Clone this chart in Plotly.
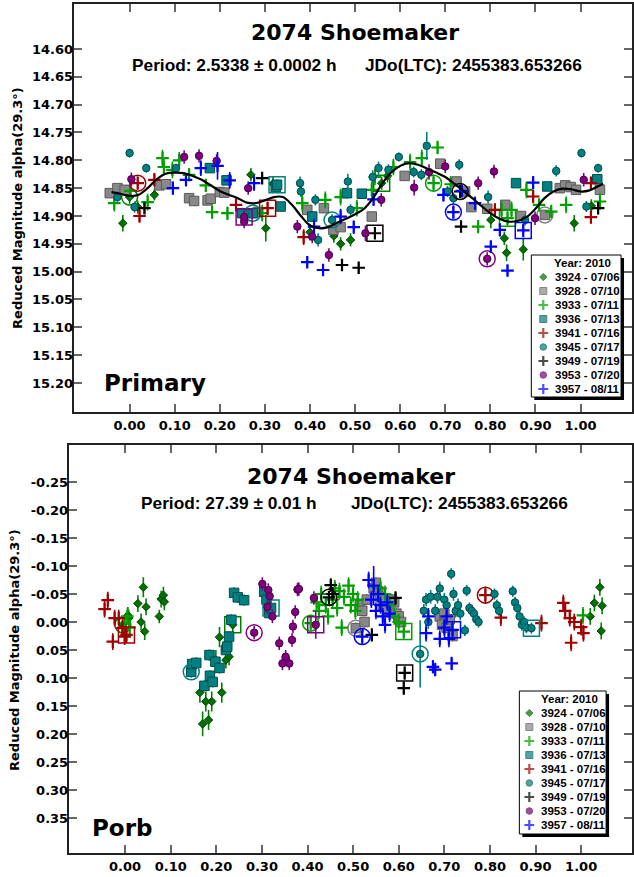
import plotly.graph_objects as go

W, H = 634, 877

# ---- sessions ----
SESSION_IDS = ["3924", "3928", "3933", "3936", "3941", "3945", "3949", "3953", "3957"]
SESSION_LABELS = ["3924 - 07/06", "3928 - 07/10", "3933 - 07/11", "3936 - 07/13",
                  "3941 - 07/16", "3945 - 07/17", "3949 - 07/19", "3953 - 07/20",
                  "3957 - 08/11"]
LEGEND_TITLE = "Year: 2010"

# ---- Primary period: (phase, reduced mag, error) per session ----
P1_3924 = [(0.000, 14.866, 0.012), (-0.015, 14.913, 0.015), (0.018, 14.884, 0.012),
           (0.055, 14.862, 0.010), (0.269, 14.826, 0.012), (0.302, 14.922, 0.024),
           (0.318, 14.842, 0.012), (0.400, 14.929, 0.015), (0.453, 14.936, 0.012),
           (0.468, 14.950, 0.012), (0.490, 14.943, 0.012), (0.572, 14.828, 0.012),
           (0.801, 14.907, 0.015), (0.831, 14.940, 0.012), (0.836, 14.966, 0.015),
           (0.873, 14.960, 0.020), (0.986, 14.913, 0.015), (1.024, 14.882, 0.012),
           (0.559, 14.841, 0.012)]
P1_3928 = [(0.921, 14.898, 0.008), (-0.044, 14.859, 0.008), (-0.027, 14.850, 0.008),
           (-0.011, 14.853, 0.008), (0.066, 14.845, 0.008), (0.081, 14.843, 0.008),
           (0.132, 14.868, 0.008), (0.143, 14.873, 0.008), (0.173, 14.872, 0.008),
           (0.180, 14.869, 0.008), (0.200, 14.857, 0.008), (0.210, 14.858, 0.008),
           (0.285, 14.893, 0.008), (0.394, 14.889, 0.008), (0.431, 14.886, 0.008),
           (0.452, 14.925, 0.008), (0.468, 14.920, 0.008), (0.537, 14.901, 0.008),
           (0.610, 14.828, 0.008), (0.689, 14.806, 0.008), (0.725, 14.838, 0.008),
           (0.744, 14.856, 0.008), (0.758, 14.884, 0.008), (0.793, 14.887, 0.008),
           (0.833, 14.880, 0.008), (0.868, 14.900, 0.008), (0.954, 14.850, 0.008),
           (0.966, 14.845, 0.008), (0.978, 14.848, 0.008), (0.990, 14.853, 0.008),
           (1.043, 14.853, 0.008)]
P1_3933 = [(0.674, 14.841, 0.015), (-0.034, 14.877, 0.015), (0.002, 14.855, 0.015),
           (0.040, 14.875, 0.015), (0.073, 14.796, 0.015), (0.076, 14.812, 0.015),
           (0.095, 14.817, 0.015), (0.110, 14.800, 0.015), (0.132, 14.826, 0.012),
           (0.169, 14.845, 0.012), (0.183, 14.893, 0.012), (0.217, 14.895, 0.012),
           (0.294, 14.895, 0.015), (0.383, 14.877, 0.015), (0.434, 14.871, 0.015),
           (0.468, 14.866, 0.015), (0.504, 14.886, 0.015), (0.537, 14.853, 0.015),
           (0.544, 14.830, 0.015), (0.585, 14.812, 0.015), (0.622, 14.803, 0.015),
           (0.648, 14.796, 0.015), (0.683, 14.777, 0.012), (0.712, 14.843, 0.015),
           (0.773, 14.919, 0.012), (0.825, 14.889, 0.015), (0.847, 14.889, 0.015),
           (0.880, 14.853, 0.015), (0.908, 14.880, 0.012), (0.935, 14.892, 0.012),
           (0.968, 14.880, 0.015), (1.043, 14.874, 0.015), (0.838, 14.904, 0.015)]
P1_3936 = [(0.273, 14.895, 0.010), (0.178, 14.814, 0.008), (0.215, 14.836, 0.008),
           (0.250, 14.895, 0.010), (0.324, 14.848, 0.008), (0.335, 14.883, 0.008),
           (0.405, 14.901, 0.010), (0.482, 14.859, 0.010), (0.515, 14.860, 0.008),
           (0.857, 14.841, 0.008), (0.926, 14.847, 0.008), (1.037, 14.834, 0.008),
           (0.327, 14.844, 0.010)]
P1_3941 = [(0.018, 14.841, 0.012), (0.022, 14.900, 0.012), (0.055, 14.835, 0.012),
           (0.236, 14.880, 0.012), (0.386, 14.938, 0.014), (0.810, 14.889, 0.012),
           (0.895, 14.865, 0.012), (1.023, 14.841, 0.012), (1.023, 14.902, 0.012),
           (0.306, 14.886, 0.012)]
P1_3945 = [(0.449, 14.907, 0.010), (0.000, 14.787, 0.008), (-0.027, 14.866, 0.010),
           (0.011, 14.884, 0.010), (0.037, 14.814, 0.008), (0.103, 14.814, 0.008),
           (0.378, 14.841, 0.012), (0.380, 14.856, 0.010), (0.412, 14.871, 0.010),
           (0.418, 14.943, 0.012), (0.484, 14.838, 0.014), (0.490, 14.889, 0.010),
           (0.539, 14.830, 0.012), (0.552, 14.814, 0.012), (0.574, 14.817, 0.010),
           (0.597, 14.794, 0.008), (0.630, 14.821, 0.010), (0.647, 14.826, 0.010),
           (0.659, 14.774, 0.025), (0.705, 14.856, 0.010), (0.718, 14.868, 0.010),
           (0.731, 14.808, 0.010), (0.795, 14.866, 0.012), (0.877, 14.907, 0.010),
           (0.946, 14.819, 0.010), (1.002, 14.787, 0.008), (1.013, 14.883, 0.010),
           (1.039, 14.814, 0.008)]
P1_3949 = [(0.733, 14.856, 0.012), (0.033, 14.886, 0.010), (0.294, 14.832, 0.010),
           (0.471, 14.988, 0.010), (0.508, 14.993, 0.010), (0.735, 14.919, 0.010),
           (1.039, 14.886, 0.010), (0.544, 14.931, 0.010)]
P1_3953 = [(0.793, 14.977, 0.012), (0.004, 14.834, 0.012), (0.121, 14.794, 0.012),
           (0.154, 14.792, 0.012), (0.193, 14.801, 0.012), (0.254, 14.910, 0.012),
           (0.263, 14.850, 0.012), (0.372, 14.919, 0.012), (0.405, 14.937, 0.012),
           (0.442, 14.970, 0.012), (0.523, 14.931, 0.014), (0.558, 14.871, 0.012),
           (0.631, 14.849, 0.014), (0.664, 14.821, 0.014), (0.700, 14.811, 0.012),
           (0.773, 14.841, 0.012), (0.808, 14.820, 0.012), (0.899, 14.904, 0.012),
           (1.007, 14.835, 0.012), (0.254, 14.902, 0.012)]
P1_3957 = [(0.718, 14.893, 0.012), (0.096, 14.850, 0.012), (0.125, 14.835, 0.012),
           (0.158, 14.814, 0.014), (0.195, 14.810, 0.025), (0.222, 14.836, 0.015),
           (0.276, 14.841, 0.014), (0.394, 14.983, 0.010), (0.409, 14.919, 0.014),
           (0.429, 14.997, 0.010), (0.468, 14.901, 0.014), (0.497, 14.920, 0.012),
           (0.541, 14.870, 0.012), (0.696, 14.862, 0.012), (0.737, 14.855, 0.012),
           (0.766, 14.877, 0.012), (0.801, 14.955, 0.010), (0.821, 14.925, 0.012),
           (0.838, 14.998, 0.010), (0.895, 14.840, 0.012), (0.873, 14.926, 0.012)]

# Fourier fit of the primary lightcurve
FIT_PHASE = [-0.04, -0.02, 0.00, 0.02, 0.04, 0.06, 0.08, 0.10, 0.12, 0.14, 0.16, 0.18,
             0.20, 0.22, 0.24, 0.26, 0.28, 0.30, 0.32, 0.34, 0.36, 0.38, 0.40, 0.42,
             0.44, 0.46, 0.48, 0.50, 0.52, 0.54, 0.56, 0.58, 0.60, 0.62, 0.64, 0.66,
             0.68, 0.70, 0.72, 0.74, 0.76, 0.78, 0.80, 0.82, 0.84, 0.86, 0.88, 0.90,
             0.92, 0.94, 0.96, 0.98, 1.00, 1.02, 1.04, 1.05]
FIT_MAG = [14.857, 14.860, 14.864, 14.862, 14.850, 14.834, 14.824, 14.822, 14.823,
           14.828, 14.835, 14.845, 14.855, 14.862, 14.868, 14.876, 14.877, 14.872,
           14.866, 14.866, 14.880, 14.900, 14.917, 14.922, 14.920, 14.912, 14.905,
           14.897, 14.887, 14.868, 14.842, 14.822, 14.810, 14.805, 14.808, 14.815,
           14.822, 14.830, 14.842, 14.855, 14.868, 14.882, 14.895, 14.905, 14.910,
           14.909, 14.902, 14.887, 14.868, 14.856, 14.851, 14.852, 14.856, 14.854,
           14.846, 14.842]

# ---- Orbital period: (phase, mag, error) per session ----
P2_3924 = [(-0.005, 0.005, 0.015), (0.006, -0.012, 0.015), (0.008, -0.007, 0.015),
           (0.028, -0.033, 0.015), (0.035, 0.000, 0.015), (0.040, -0.062, 0.018),
           (0.046, -0.027, 0.015), (0.043, 0.017, 0.015), (0.075, -0.010, 0.012),
           (0.079, -0.041, 0.015), (0.084, -0.048, 0.015), (0.086, -0.036, 0.015),
           (0.164, 0.126, 0.018), (0.170, 0.182, 0.022), (0.177, 0.142, 0.018),
           (0.183, 0.175, 0.018), (0.190, 0.142, 0.018), (0.199, 0.068, 0.018),
           (0.207, 0.027, 0.018), (0.212, 0.126, 0.018), (0.221, 0.068, 0.015),
           (0.228, 0.062, 0.015), (1.020, -0.010, 0.015), (1.029, -0.034, 0.015),
           (1.041, -0.062, 0.015), (1.046, -0.029, 0.015), (1.044, 0.016, 0.015),
           (0.236, 0.005, 0.015)]
P2_3928 = [(0.506, 0.011, 0.010), (0.515, -0.030, 0.010), (0.520, -0.020, 0.010),
           (0.525, 0.000, 0.010), (0.530, -0.040, 0.010), (0.545, -0.060, 0.010),
           (0.550, -0.070, 0.010), (0.555, -0.055, 0.010), (0.560, -0.045, 0.010),
           (0.565, -0.030, 0.010), (0.570, -0.040, 0.010), (0.575, -0.020, 0.010),
           (0.585, -0.040, 0.010), (0.590, -0.035, 0.010), (0.595, -0.015, 0.010),
           (0.600, -0.010, 0.010), (0.605, 0.000, 0.010), (0.690, -0.010, 0.010),
           (0.695, 0.005, 0.010), (0.700, -0.015, 0.010), (0.705, 0.010, 0.010),
           (0.712, -0.005, 0.010), (0.718, 0.025, 0.010)]
P2_3933 = [(0.407, 0.002, 0.015), (-0.001, 0.002, 0.015), (0.005, -0.010, 0.015),
           (0.010, 0.010, 0.015), (0.420, -0.035, 0.015), (0.425, -0.020, 0.015),
           (0.430, -0.050, 0.015), (0.440, -0.030, 0.015), (0.445, -0.010, 0.015),
           (0.455, -0.040, 0.015), (0.460, -0.060, 0.015), (0.465, -0.025, 0.015),
           (0.470, -0.055, 0.015), (0.475, 0.010, 0.015), (0.480, -0.045, 0.015),
           (0.490, -0.065, 0.015), (0.495, -0.030, 0.015), (0.500, -0.050, 0.015),
           (0.505, -0.020, 0.015), (0.510, -0.040, 0.015), (0.560, -0.060, 0.015),
           (0.570, -0.050, 0.015), (0.580, -0.030, 0.015), (0.590, -0.010, 0.015),
           (0.600, 0.000, 0.015), (1.004, -0.012, 0.015), (0.611, 0.017, 0.015)]
P2_3936 = [(0.145, 0.089, 0.010), (0.147, 0.075, 0.010), (0.156, 0.073, 0.010),
           (0.174, 0.114, 0.010), (0.185, 0.059, 0.010), (0.186, 0.096, 0.010),
           (0.192, 0.107, 0.010), (0.198, 0.071, 0.010), (0.207, 0.082, 0.010),
           (0.221, 0.050, 0.010), (0.224, 0.044, 0.010), (0.228, 0.026, 0.010),
           (0.233, -0.004, 0.010), (0.239, -0.052, 0.010), (0.247, -0.044, 0.010),
           (0.261, -0.039, 0.010), (0.305, -0.054, 0.010), (0.310, -0.040, 0.010),
           (0.316, -0.016, 0.010), (0.320, -0.025, 0.010)]
P2_3941 = [(0.790, -0.048, 0.015), (0.824, -0.008, 0.015), (0.913, 0.002, 0.015),
           (0.961, -0.034, 0.015), (0.965, -0.020, 0.015), (0.975, -0.007, 0.015),
           (0.978, 0.037, 0.015), (0.985, 0.000, 0.015), (1.000, 0.009, 0.015),
           (1.005, 0.020, 0.015), (-0.045, -0.023, 0.015), (-0.038, -0.039, 0.015),
           (-0.023, -0.007, 0.015), (-0.014, -0.007, 0.015), (-0.027, 0.035, 0.015),
           (-0.006, 0.011, 0.015), (-0.001, 0.026, 0.015), (0.003, 0.023, 0.015)]
P2_3945 = [(0.647, 0.057, 0.060), (0.655, -0.020, 0.012), (0.660, -0.040, 0.012),
           (0.665, 0.000, 0.012), (0.670, -0.045, 0.012), (0.680, -0.020, 0.012),
           (0.685, -0.045, 0.012), (0.690, -0.060, 0.012), (0.700, -0.040, 0.012),
           (0.705, -0.030, 0.012), (0.715, -0.086, 0.010), (0.720, -0.050, 0.012),
           (0.725, -0.020, 0.012), (0.730, -0.030, 0.012), (0.735, -0.015, 0.012),
           (0.745, 0.015, 0.010), (0.749, -0.056, 0.010), (0.755, -0.025, 0.010),
           (0.760, -0.020, 0.010), (0.765, -0.015, 0.010), (0.770, -0.005, 0.010),
           (0.775, 0.000, 0.010), (0.810, -0.050, 0.010), (0.815, -0.030, 0.010),
           (0.820, -0.020, 0.010), (0.850, -0.055, 0.010), (0.855, -0.035, 0.010),
           (0.860, -0.025, 0.010), (0.865, -0.010, 0.010), (0.870, 0.005, 0.010),
           (0.875, 0.000, 0.010), (0.880, 0.010, 0.010), (0.891, 0.011, 0.010)]
P2_3949 = [(0.447, -0.044, 0.012), (0.451, -0.066, 0.012), (0.455, -0.050, 0.012),
           (0.541, 0.023, 0.012), (0.593, -0.043, 0.012), (0.611, 0.118, 0.012),
           (0.613, 0.091, 0.012)]
P2_3953 = [(0.283, 0.019, 0.012), (0.301, -0.068, 0.012), (0.312, -0.027, 0.012),
           (0.314, -0.057, 0.012), (0.317, -0.046, 0.012), (0.323, -0.010, 0.012),
           (0.338, 0.038, 0.012), (0.345, 0.074, 0.012), (0.352, 0.062, 0.012),
           (0.360, 0.074, 0.012), (0.366, 0.032, 0.012), (0.368, 0.008, 0.012),
           (0.373, -0.018, 0.012), (0.378, -0.058, 0.012), (0.381, -0.059, 0.012),
           (0.414, -0.043, 0.012), (0.418, 0.005, 0.025)]
P2_3957 = [(0.520, 0.026, 0.015), (0.534, -0.075, 0.015), (0.540, -0.040, 0.015),
           (0.545, -0.065, 0.035), (0.550, -0.020, 0.015), (0.555, -0.050, 0.015),
           (0.560, -0.030, 0.015), (0.565, -0.010, 0.015), (0.570, 0.005, 0.015),
           (0.575, -0.035, 0.015), (0.580, -0.015, 0.015), (0.660, 0.020, 0.015),
           (0.665, -0.010, 0.015), (0.675, 0.080, 0.012), (0.680, 0.085, 0.012),
           (0.690, 0.030, 0.015), (0.700, 0.010, 0.015), (0.705, -0.010, 0.015),
           (0.710, 0.030, 0.015), (0.716, 0.074, 0.012), (0.718, 0.014, 0.015)]

# sessions whose first / last observation carries a large open marker
P1_FIRST = ["3924", "3928", "3933", "3936", "3941", "3945", "3949", "3953", "3957"]
P1_LAST = ["3924", "3933", "3936", "3941", "3949", "3953", "3957"]
P2_FIRST = ["3924", "3928", "3933", "3936", "3941", "3945", "3949", "3953", "3957"]
P2_LAST = ["3924", "3933", "3936", "3941", "3945", "3949", "3953", "3957"]

P1_TICKS_Y = [14.60, 14.65, 14.70, 14.75, 14.80, 14.85, 14.90, 14.95, 15.00, 15.05, 15.10, 15.15, 15.20]
P2_TICKS_Y = [-0.25, -0.20, -0.15, -0.10, -0.05, 0.00, 0.05, 0.10, 0.15, 0.20, 0.25, 0.30, 0.35]
TICKS_X = [0.0, 0.1, 0.2, 0.3, 0.4, 0.5, 0.6, 0.7, 0.8, 0.9, 1.0]

P1 = dict(zip(SESSION_IDS, [P1_3924, P1_3928, P1_3933, P1_3936, P1_3941,
                            P1_3945, P1_3949, P1_3953, P1_3957]))
P2 = dict(zip(SESSION_IDS, [P2_3924, P2_3928, P2_3933, P2_3936, P2_3941,
                            P2_3945, P2_3949, P2_3953, P2_3957]))

# marker look of each session (size = plot size, lsize = legend size)
STYLE = {
    "3924": dict(symbol="diamond", fill="#007000", edge="#004a00", size=6.5, lsize=5.5, err="#008000"),
    "3928": dict(symbol="square", fill="#888888", edge="#5a5a5a", size=9.5, lsize=7, err="#808080"),
    "3933": dict(symbol="cross-thin", fill="#00a000", edge="#00a000", size=9, lsize=7, err="#00a000"),
    "3936": dict(symbol="square", fill="#008080", edge="#004c4c", size=9.5, lsize=7, err="#008080"),
    "3941": dict(symbol="cross-thin", fill="#a00000", edge="#a00000", size=9, lsize=7, err="#a00000"),
    "3945": dict(symbol="circle", fill="#008080", edge="#004c4c", size=7.5, lsize=6.5, err="#008080"),
    "3949": dict(symbol="cross-thin", fill="#000000", edge="#000000", size=9, lsize=7, err="#000000"),
    "3953": dict(symbol="circle", fill="#800080", edge="#4d004d", size=7.5, lsize=6.5, err="#800080"),
    "3957": dict(symbol="cross-thin", fill="#0000ff", edge="#0000ff", size=9, lsize=7, err="#0000ff"),
}

BOLD_WIDE = "DejaVu Sans"
BOLD_ARIAL = "Liberation Sans, Arial"


def px_x(p):
    return p / W


def px_y(p):
    return 1 - p / H


def marker_of(sid):
    st = STYLE[sid]
    thin = st["symbol"] == "cross-thin"
    return dict(symbol=st["symbol"], size=st["size"], color=st["fill"],
                line=dict(color=st["edge"], width=2.2 if thin else 1))


fig = go.Figure()


def add_panel(data, firsts, lasts, xa, ya):
    for sid in SESSION_IDS:
        pts = data[sid]
        st = STYLE[sid]
        fig.add_trace(go.Scatter(
            x=[p[0] for p in pts], y=[p[1] for p in pts], mode="markers",
            marker=marker_of(sid),
            error_y=dict(type="data", array=[p[2] for p in pts], color=st["err"],
                         thickness=1.6, width=0),
            xaxis=xa, yaxis=ya, showlegend=False, hoverinfo="skip"))
        ends_x, ends_y, ends_sym = [], [], []
        if sid in firsts:
            ends_x.append(pts[0][0]); ends_y.append(pts[0][1]); ends_sym.append("circle-open")
        if sid in lasts:
            ends_x.append(pts[-1][0]); ends_y.append(pts[-1][1]); ends_sym.append("square-open")
        if ends_x:
            fig.add_trace(go.Scatter(
                x=ends_x, y=ends_y, mode="markers",
                marker=dict(symbol=ends_sym, size=16, color=st["err"],
                            line=dict(color=st["err"], width=1.5)),
                xaxis=xa, yaxis=ya, showlegend=False, hoverinfo="skip"))


add_panel(P1, P1_FIRST, P1_LAST, "x", "y")
fig.add_trace(go.Scatter(x=FIT_PHASE, y=FIT_MAG, mode="lines",
                         line=dict(color="#000000", width=2.2, shape="spline"),
                         xaxis="x", yaxis="y", showlegend=False, hoverinfo="skip"))
add_panel(P2, P2_FIRST, P2_LAST, "x2", "y2")

# legend symbols drawn in pixel space on an invisible overlay axis
for (lx, ly) in [(545, 277), (531, 713)]:
    fig.add_trace(go.Scatter(
        x=[lx] * len(SESSION_IDS), y=[ly + 14 * i for i in range(len(SESSION_IDS))],
        mode="markers",
        marker=dict(symbol=[STYLE[s]["symbol"] for s in SESSION_IDS],
                    size=[STYLE[s]["lsize"] for s in SESSION_IDS],
                    color=[STYLE[s]["fill"] for s in SESSION_IDS],
                    line=dict(color=[STYLE[s]["edge"] for s in SESSION_IDS],
                              width=[2.2 if STYLE[s]["symbol"] == "cross-thin" else 1 for s in SESSION_IDS])),
        xaxis="x3", yaxis="y3", showlegend=False, hoverinfo="skip"))

axis_common = dict(showline=True, linecolor="#222222", linewidth=2, mirror="ticks",
                   ticks="inside", ticklen=8, tickwidth=1.5, tickcolor="#666666",
                   showgrid=False, zeroline=False,
                   tickfont=dict(family=BOLD_WIDE, size=13, color="#000000", weight="bold"))

fmt = lambda v: f"{v:.2f}"
fig.update_layout(
    width=W, height=H, margin=dict(l=0, r=0, t=0, b=0), autosize=False,
    paper_bgcolor="white", plot_bgcolor="rgba(0,0,0,0)",
    xaxis=dict(domain=[74 / W, 1.0], range=[-0.1238, 1.1141], tickvals=TICKS_X,
               ticktext=[fmt(v) for v in TICKS_X], anchor="y", **axis_common),
    yaxis=dict(domain=[px_y(412), px_y(4)], range=[15.2521, 14.5192], tickvals=P1_TICKS_Y,
               ticktext=[fmt(v) for v in P1_TICKS_Y], anchor="x", ticklabelstandoff=-4,
               **axis_common),
    xaxis2=dict(domain=[69 / W, 1.0], range=[-0.1235, 1.1115], tickvals=TICKS_X,
                ticktext=[fmt(v) for v in TICKS_X], anchor="y2", **axis_common),
    yaxis2=dict(domain=[px_y(853), px_y(445)], range=[0.4125, -0.3161], tickvals=P2_TICKS_Y,
                ticktext=[fmt(v) for v in P2_TICKS_Y], anchor="x2", ticklabelstandoff=-4,
                **axis_common),
    xaxis3=dict(domain=[0, 1], range=[0, W], visible=False, anchor="y3"),
    yaxis3=dict(domain=[0, 1], range=[H, 0], visible=False, anchor="x3"),
)

# legend boxes with drop shadow, kept beneath the legend symbols
shapes = []
for (x0, y0, x1, y1) in [(533, 255, 623, 397), (521, 691, 608, 834)]:
    shapes.append(dict(type="rect", xref="paper", yref="paper",
                       x0=px_x(x0 + 3), x1=px_x(x1 + 3), y0=px_y(y1 + 3), y1=px_y(y0 + 3),
                       fillcolor="#000000", line=dict(width=0), layer="below"))
    shapes.append(dict(type="rect", xref="paper", yref="paper",
                       x0=px_x(x0), x1=px_x(x1), y0=px_y(y1), y1=px_y(y0),
                       fillcolor="#ffffff", line=dict(color="#000000", width=1), layer="below"))
fig.update_layout(shapes=shapes)

ann = []


def text(s, x, y, size, family, xanchor="center", angle=0):
    ann.append(dict(text=s, x=px_x(x), y=px_y(y), xref="paper", yref="paper",
                    xanchor=xanchor, yanchor="middle", showarrow=False, textangle=angle,
                    font=dict(family=family, size=size, color="#000000", weight="bold")))


# top panel texts
text("2074 Shoemaker", 356, 33, 22, BOLD_WIDE)
text("Period: 2.5338 ± 0.0002 h", 130, 65, 17.3, BOLD_ARIAL, "left")
text("JDo(LTC): 2455383.653266", 364, 65, 17.3, BOLD_ARIAL, "left")
text("Primary", 102, 383, 23, BOLD_WIDE, "left")
text("Reduced Magnitude alpha(29.3°)", 18, 208, 13, BOLD_WIDE, angle=-90)
# bottom panel texts
text("2074 Shoemaker", 352, 476, 22, BOLD_WIDE)
text("Period: 27.39 ± 0.01 h", 139, 503, 17.3, BOLD_ARIAL, "left")
text("JDo(LTC): 2455383.653266", 350, 503, 17.3, BOLD_ARIAL, "left")
text("Porb", 90, 828, 23, BOLD_WIDE, "left")
text("Reduced Magnitude alpha(29.3°)", 14, 650, 13, BOLD_WIDE, angle=-90)

# legend texts
for (tx, ty, tcx, tty) in [(555, 277, 584, 263), (541, 713, 571, 699)]:
    text(LEGEND_TITLE, tcx, tty, 11.5, BOLD_ARIAL)
    for i, lab in enumerate(SESSION_LABELS):
        text(lab, tx, ty + 14 * i, 11.5, BOLD_ARIAL, "left")

fig.update_layout(annotations=ann)
fig.write_html("out.html")
